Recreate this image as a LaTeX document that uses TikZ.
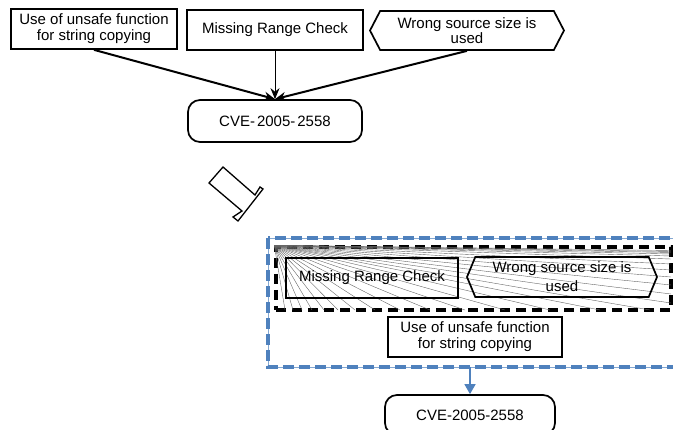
\documentclass[tikz,border=0pt]{standalone}
\usepackage{fontspec}
\setmainfont{Liberation Sans}
\usetikzlibrary{arrows.meta,shapes.symbols}
\definecolor{dashblue}{RGB}{79,129,189}
\tikzset{
  lbl/.style={font=\fontsize{15}{16}\selectfont, align=center, inner sep=0pt},
  plainbox/.style={lbl, draw, line width=1.7pt, rectangle},
  hexbox/.style={lbl, draw, line width=1.7pt, shape=signal, signal to=west and east, signal pointer angle=#1},
  roundbox/.style={lbl, draw, line width=1.7pt, rounded corners=12pt, rectangle},
  thickarrow/.style={line width=2pt, -{Stealth[length=11pt,width=9pt]}},
  thinarrow/.style={line width=0.9pt, -{Stealth[length=11pt,width=9pt]}},
  blackdash/.style={draw, line width=3.4pt, dash pattern=on 10pt off 6pt, inner sep=0pt},
  bluedash/.style={draw=dashblue, line width=3.4pt, dash pattern=on 11pt off 5pt},
  bluethin/.style={draw=dashblue!70, line width=0.5pt},
  fanline/.style={black!60, line width=0.4pt},
}
\begin{document}
\begin{tikzpicture}[x=1pt,y=-1pt]
\useasboundingbox (0,0) rectangle (673,430);
\clip (0,0) rectangle (673,430);

% ---- top: three causes feeding the CVE ----
\node[plainbox, minimum width=166pt, minimum height=40pt] (u1) at (94,29)
  {Use of unsafe function\\for string copying};
\node[plainbox, minimum width=176pt, minimum height=40pt] (m1) at (275,30)
  {Missing Range Check};
\node[hexbox=125, minimum width=194pt, minimum height=39pt] (w1) at (467,30.5)
  {Wrong source size is\\[-1pt]used};
\node[roundbox, minimum width=174pt, minimum height=42pt] (c1) at (275,121)
  {CVE-\hspace{2pt}2005-\hspace{2pt}2558};

\draw[thickarrow] (u1.south) -- (c1.north);
\draw[thinarrow] (m1.south) -- (c1.north);
\draw[thickarrow] (w1.south) -- (c1.north);

% ---- hollow transition arrow ----
\draw[line width=1.3pt, line join=miter]
  (223,167) -- (255,195) -- (260,187) -- (263,189) -- (238,221)
  -- (233,217) -- (242,211) -- (209,183) -- cycle;

% ---- bottom: regrouped causes ----
\draw[bluethin] (268,238) rectangle (700,367);
\draw[bluedash] (268,238) rectangle (700,367);
\node[blackdash, minimum width=395pt, minimum height=63pt] (inner) at (473.5,278.5) {};

% radiating hatch lines inside the dashed group
\foreach \bx in {285,293,302,312,324,338,355,375,400,430,465,505,550,600,650}
  \draw[fanline] (inner.north west) -- (\bx,310);
\foreach \ry in {250.5,251.5,252.5,254,256,259,264,270,277,285,294,303}
  \draw[fanline] (inner.north west) -- (671,\ry);

\node[plainbox, minimum width=172pt, minimum height=40pt] (m2) at (372,278)
  {Missing Range Check};
\node[hexbox=135, minimum width=190pt, minimum height=40pt] (w2) at (562,277)
  {Wrong source size is\\[3pt]used};
\node[plainbox, minimum width=174pt, minimum height=40pt] (u2) at (475,337)
  {Use of unsafe function\\for string copying};

\coordinate (gb) at (470,367);
\node[roundbox, minimum width=170pt, minimum height=40pt] (c2) at (470,415)
  {CVE-2005-2558};
\draw[dashblue, line width=1.5pt, -{Triangle[length=10pt,width=11pt]}] (gb) -- (c2.north);
\end{tikzpicture}
\end{document}
